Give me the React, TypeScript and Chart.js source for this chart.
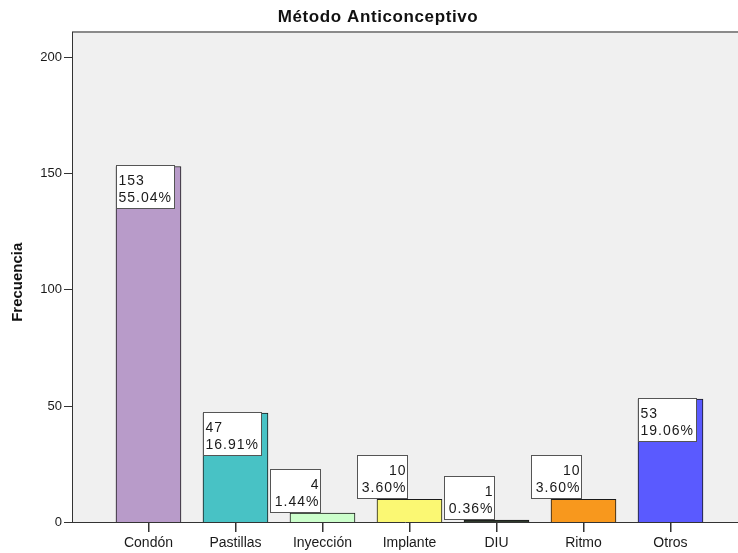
import React, { useEffect, useRef } from "react";
import { Chart, registerables } from "chart.js";

Chart.register(...registerables);

const categories = ["Condón", "Pastillas", "Inyección", "Implante", "DIU", "Ritmo", "Otros"];
const counts = [153, 47, 4, 10, 1, 10, 53];
const barColors = ["#b89bc9", "#48c2c5", "#ccffcc", "#fbf873", "#2e3a2c", "#f8981d", "#5a5aff"];
const yTicks = [0, 50, 100, 150, 200];
const chartTitle = "Método Anticonceptivo";
const yTitle = "Frecuencia";

const FONT = '"Liberation Sans", Arial, sans-serif';

export default function App() {
  const ref = useRef<HTMLCanvasElement | null>(null);

  useEffect(() => {
    const canvas = ref.current;
    if (!canvas) return;
    const total = counts.reduce((a, b) => a + b, 0);
    const percents = counts.map((c) => ((c / total) * 100).toFixed(2) + "%");

    const bgPlugin = {
      id: "bgPlugin",
      beforeDraw(chart: any) {
        const { ctx, chartArea } = chart;
        ctx.save();
        ctx.fillStyle = "#f0f0f0";
        ctx.fillRect(chartArea.left, chartArea.top, chart.width - chartArea.left, chartArea.bottom - chartArea.top);
        ctx.strokeStyle = "#8a8a8a";
        ctx.lineWidth = 2;
        ctx.beginPath();
        ctx.moveTo(chartArea.left, chartArea.top);
        ctx.lineTo(chart.width, chartArea.top);
        ctx.stroke();
        ctx.restore();
      },
      afterDraw(chart: any) {
        const { ctx, chartArea } = chart;
        ctx.save();
        // x tick marks at category centres
        const xs = chart.scales.x;
        ctx.fillStyle = "#333333";
        for (let i = 0; i < categories.length; i++) {
          const px = Math.round(xs.getPixelForValue(i));
          ctx.fillRect(px, Math.round(chartArea.bottom), 1.5, 9);
        }
        ctx.fillStyle = "#111";
        ctx.font = `bold 17px ${FONT}`;
        try {
          (ctx as any).letterSpacing = "0.6px";
        } catch (e) {}
        ctx.textAlign = "center";
        ctx.textBaseline = "middle";
        ctx.fillText(chartTitle, 378, 17);
        try {
          (ctx as any).letterSpacing = "0px";
        } catch (e) {}
        ctx.translate(18, (chartArea.top + chartArea.bottom) / 2 + 5);
        ctx.rotate(-Math.PI / 2);
        ctx.font = `bold 15px ${FONT}`;
        ctx.fillText(yTitle, 0, 0);
        ctx.restore();
      },
    };

    const labelPlugin = {
      id: "labelPlugin",
      afterDatasetsDraw(chart: any) {
        const { ctx } = chart;
        const meta = chart.getDatasetMeta(0);
        ctx.save();
        ctx.font = `14px ${FONT}`;
        try {
          (ctx as any).letterSpacing = "1px";
        } catch (e) {}
        ctx.textBaseline = "alphabetic";
        const boxH = 43;
        meta.data.forEach((bar: any, i: number) => {
          const p = bar.getProps(["x", "y", "base", "width"], true);
          const l1 = String(counts[i]);
          const l2 = percents[i];
          const tw = Math.max(ctx.measureText(l1).width, ctx.measureText(l2).width);
          const boxW = Math.round(tw + 5);
          const barLeft = p.x - p.width / 2;
          const tall = p.base - p.y > boxH + 2;
          let bx: number, by: number, align: "left" | "right";
          if (tall) {
            bx = Math.round(barLeft) + 0.5;
            by = Math.round(p.y) - 0.5;
            align = "left";
          } else {
            bx = Math.round(p.x - 2 - boxW) + 0.5;
            by = Math.round(p.y - boxH) - 0.5;
            align = "right";
          }
          ctx.fillStyle = "#ffffff";
          ctx.fillRect(bx, by, boxW, boxH);
          ctx.strokeStyle = "#555555";
          ctx.lineWidth = 1;
          ctx.strokeRect(bx, by, boxW, boxH);
          ctx.fillStyle = "#1a1a1a";
          ctx.textAlign = "left";
          if (align === "left") {
            ctx.fillText(l1, bx + 2, by + 19.5);
            ctx.fillText(l2, bx + 2, by + 36);
          } else {
            const w1 = ctx.measureText(l1).width;
            const w2 = ctx.measureText(l2).width;
            ctx.fillText(l1, bx + boxW - 2 - w1 + 1, by + 19.5);
            ctx.fillText(l2, bx + boxW - 2 - w2 + 1, by + 36);
          }
        });
        ctx.restore();
      },
    };

    const chart = new Chart(canvas, {
      type: "bar",
      data: {
        datasets: [
          {
            data: categories.map((c, i) => ({ x: i, y: counts[i] })) as any,
            backgroundColor: barColors,
            borderColor: "#1a1a1a",
            borderWidth: 1,
            barThickness: 65,
          },
        ],
      },
      options: {
        responsive: false,
        animation: false,
        devicePixelRatio: 1,
        layout: { padding: { top: 32, right: 0, left: 0, bottom: 0 } },
        plugins: {
          legend: { display: false },
          tooltip: { enabled: false },
          title: { display: false },
        },
        scales: {
          x: {
            type: "linear",
            min: -0.879,
            max: 6.776,
            offset: false,
            afterFit(scale: any) {
              scale.height = 30.5;
            },
            afterBuildTicks(scale: any) {
              scale.ticks = categories.map((c, i) => ({ value: i }));
            },
            ticks: {
              autoSkip: false,
              maxRotation: 0,
              padding: 3,
              color: "#1a1a1a",
              font: { family: FONT, size: 14 },
              callback: (v: any) => categories[Number(v)] ?? "",
            },
            grid: { display: true, drawOnChartArea: false, drawTicks: true, offset: false, tickLength: 9, color: "rgba(0,0,0,0)" },
            border: { color: "#333", width: 1 },
          },
          y: {
            type: "linear",
            min: 0,
            max: 210.8,
            afterFit(scale: any) {
              scale.width = 72;
            },
            afterBuildTicks(scale: any) {
              scale.ticks = yTicks.map((v) => ({ value: v }));
            },
            ticks: {
              padding: 2,
              color: "#1a1a1a",
              font: { family: FONT, size: 13 },
            },
            grid: { drawOnChartArea: false, offset: false, tickLength: 8, color: "#333", lineWidth: 1 },
            border: { color: "#333", width: 1 },
          },
        },
      },
      plugins: [bgPlugin, labelPlugin],
    });
    return () => chart.destroy();
  }, []);

  return (
    <canvas
      ref={ref}
      width={738}
      height={553}
      style={{ position: "fixed", left: 0, top: 0, width: 738, height: 553 }}
    />
  );
}
